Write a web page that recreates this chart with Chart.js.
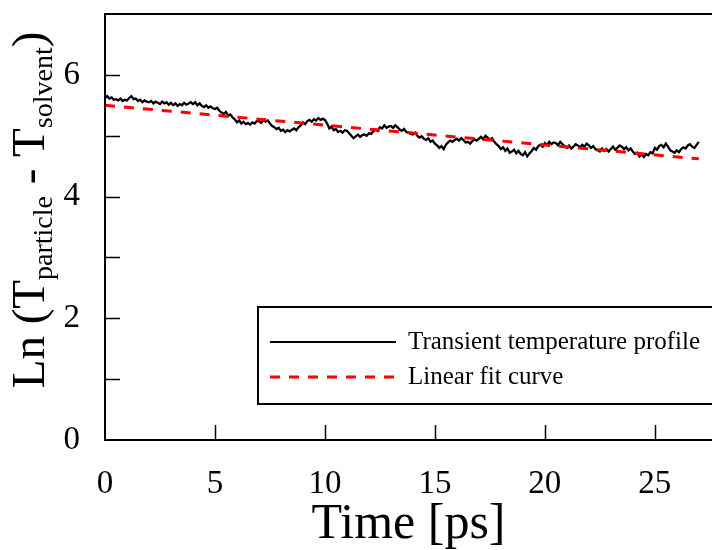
<!DOCTYPE html>
<html>
<head>
<meta charset="utf-8">
<script src="https://cdn.jsdelivr.net/npm/chart.js@4.4.0/dist/chart.umd.min.js"></script>
<style>
  html, body { margin: 0; padding: 0; background: #fff; }
</style>
</head>
<body>
<canvas id="chart" width="712" height="550"></canvas>
<script>
// series names
const seriesNames = ['Transient temperature profile', 'Linear fit curve'];

// transient profile, sampled every 0.1 ps from t = 0 (one row per ps)
const profileStep = 0.1;
const profileValues = [
  5.62, 5.65, 5.61, 5.63, 5.59, 5.60, 5.58, 5.61, 5.57, 5.59,
  5.58, 5.62, 5.65, 5.60, 5.61, 5.57, 5.59, 5.55, 5.58, 5.56,
  5.55, 5.57, 5.53, 5.56, 5.54, 5.52, 5.56, 5.53, 5.55, 5.51,
  5.54, 5.50, 5.53, 5.49, 5.52, 5.50, 5.54, 5.51, 5.53, 5.55,
  5.52, 5.55, 5.50, 5.53, 5.49, 5.47, 5.50, 5.46, 5.48, 5.45,
  5.44, 5.46, 5.41, 5.38, 5.36, 5.39, 5.33, 5.35, 5.30, 5.27,
  5.22, 5.25, 5.20, 5.23, 5.19, 5.21, 5.18, 5.22, 5.20, 5.24,
  5.24, 5.21, 5.26, 5.23, 5.25, 5.20, 5.16, 5.14, 5.11, 5.13,
  5.08, 5.10, 5.06, 5.09, 5.07, 5.10, 5.12, 5.09, 5.14, 5.17,
  5.22, 5.19, 5.24, 5.26, 5.23, 5.27, 5.25, 5.29, 5.26, 5.28,
  5.26, 5.20, 5.12, 5.15, 5.09, 5.11, 5.06, 5.08, 5.05, 5.09,
  5.08, 5.04, 5.00, 4.96, 4.99, 5.02, 4.98, 5.01, 5.02, 5.00,
  5.04, 5.03, 5.07, 5.10, 5.08, 5.14, 5.12, 5.17, 5.13, 5.15,
  5.16, 5.13, 5.17, 5.14, 5.10, 5.08, 5.11, 5.06, 5.05, 5.03,
  5.02, 5.05, 5.00, 4.97, 4.99, 4.95, 4.93, 4.96, 4.90, 4.92,
  4.87, 4.84, 4.80, 4.83, 4.78, 4.85, 4.89, 4.92, 4.90, 4.93,
  4.95, 4.92, 4.96, 4.93, 4.89, 4.90, 4.87, 4.91, 4.94, 4.92,
  4.95, 4.98, 4.94, 5.00, 4.97, 4.93, 4.96, 4.90, 4.86, 4.83,
  4.78, 4.81, 4.75, 4.79, 4.72, 4.74, 4.77, 4.71, 4.75, 4.70,
  4.68, 4.73, 4.66, 4.71, 4.75, 4.80, 4.77, 4.83, 4.85, 4.82,
  4.88, 4.85, 4.90, 4.86, 4.89, 4.88, 4.84, 4.90, 4.86, 4.83,
  4.80, 4.84, 4.79, 4.82, 4.86, 4.84, 4.81, 4.85, 4.82, 4.87,
  4.84, 4.80, 4.83, 4.78, 4.76, 4.74, 4.79, 4.75, 4.78, 4.74,
  4.78, 4.82, 4.77, 4.80, 4.84, 4.82, 4.78, 4.81, 4.76, 4.79,
  4.74, 4.70, 4.72, 4.66, 4.69, 4.65, 4.70, 4.68, 4.73, 4.71,
  4.80, 4.77, 4.83, 4.85, 4.81, 4.87, 4.82, 4.76, 4.74, 4.72,
  4.76, 4.73, 4.78, 4.81, 4.79, 4.84, 4.86, 4.82, 4.80, 4.85,
  4.90
];

// linear fit end points
const fitTimes = [0, 27];
const fitValues = [5.50, 4.62];

// axes
const xTickValues = [0, 5, 10, 15, 20, 25];
const yTickValues = [0, 1, 2, 3, 4, 5, 6, 7];
const yTickLabels = ['0', '', '2', '', '4', '', '6', ''];

const SERIF = '"Liberation Serif", "DejaVu Serif", serif';

const profilePoints = profileValues.map((v, i) => ({ x: +(i * profileStep).toFixed(1), y: v }));
const fitPoints = fitTimes.map((t, i) => ({ x: t, y: fitValues[i] }));

// frame, inward ticks, boxed legend and y title with subscripts
const decor = {
  id: 'decor',
  afterDraw(chart) {
    const { ctx, chartArea: a, scales: { x, y } } = chart;
    ctx.save();
    ctx.strokeStyle = '#000';
    ctx.lineWidth = 2;
    ctx.beginPath();
    ctx.moveTo(a.right + 2, a.top);
    ctx.lineTo(a.left, a.top);
    ctx.lineTo(a.left, a.bottom);
    ctx.lineTo(a.right + 2, a.bottom);
    ctx.stroke();

    ctx.lineWidth = 1.5;
    ctx.beginPath();
    xTickValues.forEach(v => {
      if (v === 0) return;
      const px = Math.round(x.getPixelForValue(v)) + 0.5;
      ctx.moveTo(px, a.bottom);
      ctx.lineTo(px, a.bottom - 15);
    });
    yTickValues.forEach(v => {
      if (v === 0 || v === 7) return;
      const py = Math.round(y.getPixelForValue(v)) + 0.5;
      ctx.moveTo(a.left, py);
      ctx.lineTo(a.left + 15, py);
    });
    ctx.stroke();

    // legend box
    const bx = 258, by = 307, bw = 470, bh = 97;
    ctx.fillStyle = '#fff';
    ctx.fillRect(bx, by, bw, bh);
    ctx.lineWidth = 2;
    ctx.strokeRect(bx, by, bw, bh);
    const ds = chart.data.datasets;
    const rows = [342, 377];
    ds.forEach((d, i) => {
      ctx.beginPath();
      ctx.strokeStyle = d.borderColor;
      ctx.lineWidth = i === 0 ? 2 : 3;
      ctx.setLineDash(d.borderDash || []);
      ctx.moveTo(270, rows[i]);
      ctx.lineTo(396, rows[i]);
      ctx.stroke();
      ctx.setLineDash([]);
      ctx.fillStyle = '#000';
      ctx.font = '25px ' + SERIF;
      ctx.textBaseline = 'middle';
      ctx.textAlign = 'left';
      ctx.fillText(d.label, 408, rows[i]);
    });

    // y axis title
    const parts = [
      ['Ln (T', 47, 0], ['particle', 28, 8], [' - T', 47, 0], ['solvent', 28, 8], [')', 47, 0]
    ];
    let total = 0;
    parts.forEach(p => { ctx.font = p[1] + 'px ' + SERIF; total += ctx.measureText(p[0]).width; });
    ctx.translate(44, 210);
    ctx.rotate(-Math.PI / 2);
    ctx.textBaseline = 'alphabetic';
    ctx.fillStyle = '#000';
    let cx = -total / 2;
    parts.forEach(p => {
      ctx.font = p[1] + 'px ' + SERIF;
      ctx.fillText(p[0], cx, p[2]);
      cx += ctx.measureText(p[0]).width;
    });
    ctx.restore();
  }
};

new Chart(document.getElementById('chart'), {
  type: 'line',
  data: {
    datasets: [
      {
        label: seriesNames[0],
        data: profilePoints,
        borderColor: '#000',
        borderWidth: 2.3,
        pointRadius: 0,
        tension: 0,
        order: 1
      },
      {
        label: seriesNames[1],
        data: fitPoints,
        borderColor: '#ff0000',
        borderWidth: 3,
        borderDash: [10, 9],
        pointRadius: 0,
        order: 0
      }
    ]
  },
  options: {
    responsive: false,
    animation: false,
    layout: { padding: { top: 14, right: 0, left: 0, bottom: 0 } },
    plugins: { legend: { display: false }, tooltip: { enabled: false } },
    scales: {
      x: {
        type: 'linear',
        min: 0,
        max: 27.6,
        grid: { display: false },
        border: { display: false },
        afterBuildTicks: s => { s.ticks = xTickValues.map(v => ({ value: v })); },
        afterFit: s => { s.height = 110; s.paddingLeft = 0; s.paddingRight = 0; },
        ticks: {
          color: '#000',
          font: { family: SERIF, size: 33 },
          padding: 17,
          maxRotation: 0
        },
        title: {
          display: true,
          text: 'Time [ps]',
          color: '#000',
          font: { family: SERIF, size: 50, lineHeight: 1.0 },
          padding: 0
        }
      },
      y: {
        min: 0,
        max: 7,
        grid: { display: false },
        border: { display: false },
        afterBuildTicks: s => { s.ticks = yTickValues.map(v => ({ value: v })); },
        afterFit: s => { s.width = 105; s.paddingTop = 0; s.paddingBottom = 0; },
        ticks: {
          color: '#000',
          font: { family: SERIF, size: 33 },
          padding: 17,
          autoSkip: false,
          callback: (v, i) => yTickLabels[i]
        }
      }
    }
  },
  plugins: [decor]
});
</script>
</body>
</html>
